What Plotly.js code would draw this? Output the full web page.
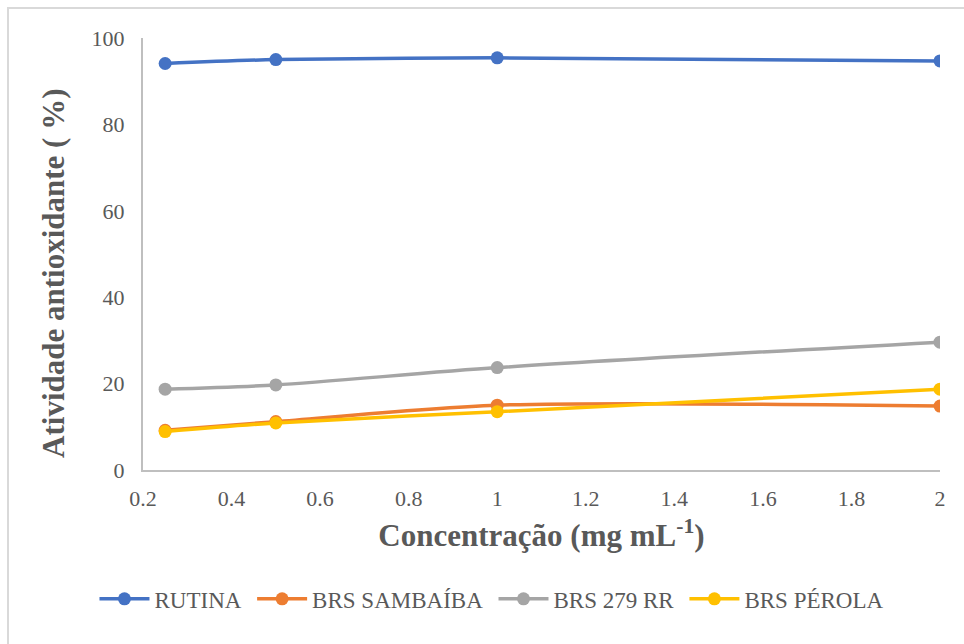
<!DOCTYPE html>
<html>
<head>
<meta charset="utf-8">
<script src="https://cdn.plot.ly/plotly-3.0.1.min.js"></script>
<style>
  html, body { margin: 0; padding: 0; overflow: hidden; background: #fff; }
  #chart { width: 964px; height: 644px; }
  #frame { position: absolute; left: 7px; top: 7px; width: 1000px; height: 700px;
           border: 2px solid #d9d9d9; pointer-events: none; }
</style>
</head>
<body>
<div id="chart"></div>
<div id="frame"></div>
<script>
const concentracao = [0.25, 0.5, 1, 2];
const rutina = [94.1, 95.0, 95.4, 94.7];
const sambaiba = [9.2, 11.2, 15.0, 14.8];
const brs279 = [18.7, 19.7, 23.7, 29.6];
const perola = [8.9, 10.9, 13.5, 18.7];
const seriesNames = ["RUTINA", "BRS SAMBAÍBA", "BRS 279 RR", "BRS PÉROLA"];
const seriesColors = ["#4472c4", "#ed7d31", "#a5a5a5", "#ffc000"];
const seriesValues = [rutina, sambaiba, brs279, perola];
const xTicks = [0.2, 0.4, 0.6, 0.8, 1, 1.2, 1.4, 1.6, 1.8, 2];
const xTickLabels = ["0.2", "0.4", "0.6", "0.8", "1", "1.2", "1.4", "1.6", "1.8", "2"];
const yTicks = [0, 20, 40, 60, 80, 100];

const font = "Liberation Serif";
const traces = seriesValues.map((vals, i) => ({
  x: concentracao, y: vals, name: seriesNames[i] + "\u00a0", type: "scatter", mode: "lines+markers",
  line: { color: seriesColors[i], width: 3.5, shape: "spline", smoothing: 0.8 },
  marker: { color: seriesColors[i], size: 13 }
}));

const layout = {
  width: 964, height: 644,
  margin: { l: 143, r: 24, t: 38, b: 174 },
  paper_bgcolor: "#fff", plot_bgcolor: "#fff",
  font: { family: font, color: "#595959", size: 22 },
  xaxis: {
    range: [0.2, 2], tickvals: xTicks, ticktext: xTickLabels, showgrid: false, zeroline: false,
    showline: true, linecolor: "#bfbfbf", linewidth: 2, ticks: "", ticklen: 0,
    ticklabelstandoff: 8,
    tickfont: { family: font, size: 22, color: "#595959" },
    title: { text: "Concentração (mg mL<sup>-1</sup>)", font: { family: font, size: 31, color: "#595959", weight: "bold" }, standoff: 14 }
  },
  yaxis: {
    range: [0, 100], tickvals: yTicks, showgrid: false, zeroline: false,
    showline: true, linecolor: "#bfbfbf", linewidth: 2, ticks: "", ticklen: 0,
    ticklabelstandoff: 12,
    tickfont: { family: font, size: 22, color: "#595959" }
  },
  annotations: [{
    text: "Atividade antioxidante ( %)", xref: "paper", yref: "paper",
    x: -0.113, y: 0.456, xanchor: "center", yanchor: "middle", textangle: -90, showarrow: false,
    font: { family: font, size: 31, color: "#595959", weight: "bold" }
  }],
  showlegend: true,
  legend: {
    orientation: "h", xref: "container", yref: "container", x: 0.098, xanchor: "left",
    y: 0.07, yanchor: "middle", font: { family: font, size: 23, color: "#595959" },
    itemwidth: 50, tracegroupgap: 0
  }
};

Plotly.newPlot("chart", traces, layout, { displayModeBar: false, staticPlot: true });
</script>
</body>
</html>
